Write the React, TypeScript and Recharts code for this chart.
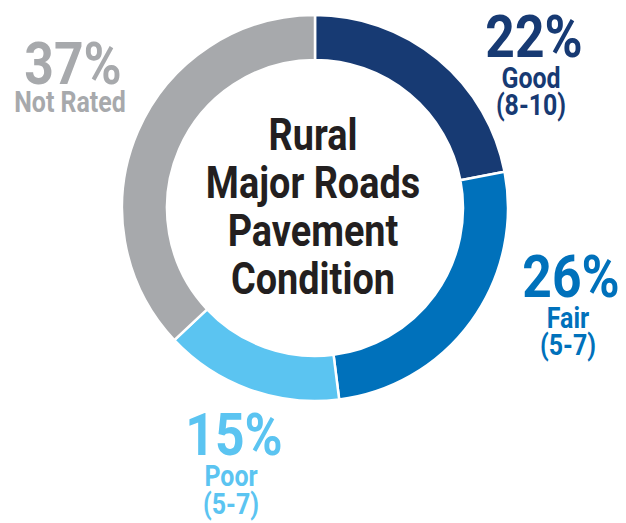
import { PieChart, Pie, Cell } from 'recharts';

const categories = ['Good', 'Fair', 'Poor', 'Not Rated'];
const ranges = ['(8-10)', '(5-7)', '(5-7)', ''];
const shares = [22, 26, 15, 37];
const colors = ['#173a73', '#0071bb', '#5bc4f1', '#a7a9ac'];
const titleLines = ['Rural', 'Major Roads', 'Pavement', 'Condition'];

// where each label block sits, relative to the pie centre (pct line baseline)
const labelOffsets = [
  { dx: 219, dy: -151, gap1: 31, gap2: 27 },
  { dx: 256, dy: 89, gap1: 31, gap2: 27 },
  { dx: -81, dy: 247, gap1: 31, gap2: 28 },
  { dx: -242, dy: -124, gap1: 28, gap2: 0 },
];

const data = categories.map((name, i) => ({ name, value: shares[i], range: ranges[i] }));

const FONT = 'Roboto, "Noto Sans", sans-serif';
const SQUEEZE = 0.86;

const Condensed = ({ x, y, size, fill, children }: any) => (
  <g transform={`translate(${x},${y}) scale(${SQUEEZE},1)`}>
    <text x={0} y={0} textAnchor="middle" fontFamily={FONT} fontWeight={700} fontSize={size} fill={fill}>
      {children}
    </text>
  </g>
);

const CenterTitle = ({ cx, cy }: { cx: number; cy: number }) => (
  <g>
    {titleLines.map((line, i) => (
      <Condensed key={line} x={cx - 2} y={cy - 58 + i * 48} size={44} fill="#231f20">
        {line}
      </Condensed>
    ))}
  </g>
);

const renderLabel = (props: any) => {
  const { cx, cy, index } = props;
  const off = labelOffsets[index];
  const x = cx + off.dx;
  const y = cy + off.dy;
  const color = colors[index];
  return (
    <g key={`lbl-${index}`}>
      {index === 0 && <CenterTitle cx={cx} cy={cy} />}
      <Condensed x={x} y={y} size={60} fill={color}>{`${shares[index]}%`}</Condensed>
      <Condensed x={x - 3} y={y + off.gap1} size={29} fill={color}>{categories[index]}</Condensed>
      {ranges[index] && (
        <Condensed x={x - 3} y={y + off.gap1 + off.gap2} size={29} fill={color}>{ranges[index]}</Condensed>
      )}
    </g>
  );
};

export default function App() {
  return (
    <div style={{ position: 'absolute', left: 0, top: 0, width: 626, height: 523, background: '#fff' }}>
      <PieChart width={626} height={523} margin={{ top: 0, right: 0, bottom: 0, left: 0 }}>
        <Pie
          data={data}
          dataKey="value"
          nameKey="name"
          cx={315}
          cy={208}
          innerRadius={148}
          outerRadius={193}
          startAngle={90}
          endAngle={-270}
          stroke="#ffffff"
          strokeWidth={2.5}
          label={renderLabel}
          labelLine={false}
          isAnimationActive={false}
        >
          {data.map((d, i) => (
            <Cell key={d.name} fill={colors[i]} />
          ))}
        </Pie>
      </PieChart>
    </div>
  );
}
